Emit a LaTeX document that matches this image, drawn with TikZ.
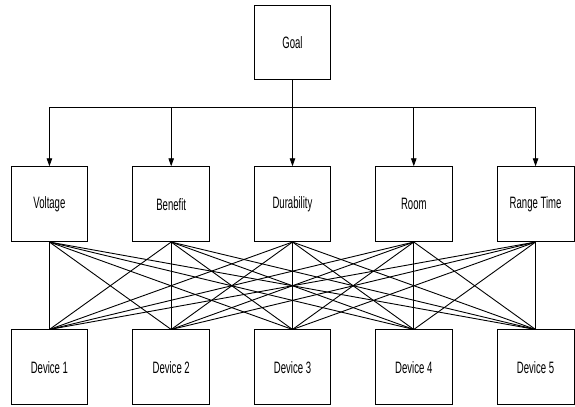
\documentclass[tikz,border=0pt]{standalone}
\usepackage{fontspec}
\setmainfont{Liberation Sans}
\newfontfamily\narrowfont[FakeStretch=0.58]{Liberation Sans}
\usetikzlibrary{arrows.meta}
\tikzset{
  box/.style={draw, line width=0.9pt, minimum width=77pt, minimum height=75pt, inner sep=0pt,
    font=\narrowfont\fontsize{16.5pt}{19pt}\selectfont},
  link/.style={line width=0.9pt},
  arr/.style={line width=0.9pt, -{Triangle[length=8pt,width=5.5pt]}}
}
\begin{document}
\begin{tikzpicture}[x=1pt,y=-1pt]
\useasboundingbox (0,0) rectangle (576,407);
\node[box] (goal) at (293,42.5) {Goal};
\foreach \n/\x/\t in {1/49.5/Voltage,2/171.5/Benefit,3/293/Durability,4/414.5/Room,5/536.5/Range Time}{
  \node[box] (m\n) at (\x,204.5) {\t};
  \node[box] (d\n) at (\x,368) {Device \n};
  \coordinate (b\n) at (\x,108);
}
\draw[link] (goal.south) -- (b3);
\draw[link] (b1) -- (b5);
\foreach \n in {1,...,5}{\draw[arr] (b\n) -- (m\n.north);}
\foreach \i in {1,...,5}{\foreach \j in {1,...,5}{\draw[link] (m\i.south) -- (d\j.north);}}
\end{tikzpicture}
\end{document}
